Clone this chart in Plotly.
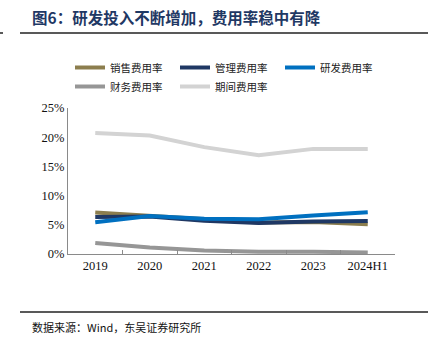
import plotly.graph_objects as go

categories = ["2019", "2020", "2021", "2022", "2023", "2024H1"]
sales = [7.1, 6.5, 5.9, 5.4, 5.5, 5.1]
mgmt = [6.35, 6.4, 5.7, 5.3, 5.55, 5.65]
rnd = [5.45, 6.5, 6.05, 5.95, 6.6, 7.15]
finance = [1.9, 1.1, 0.6, 0.4, 0.4, 0.25]
period = [20.7, 20.3, 18.3, 16.9, 18.0, 18.0]

series = [
    ("销售费用率", sales, "#8C7E4E"),
    ("管理费用率", mgmt, "#1F3864"),
    ("研发费用率", rnd, "#0070C0"),
    ("财务费用率", finance, "#969696"),
    ("期间费用率", period, "#D3D3D3"),
]

W, H = 428, 349
fig = go.Figure()
for name, vals, color in series:
    fig.add_trace(go.Scatter(
        x=categories, y=[v / 100 for v in vals], mode="lines", name=name,
        line=dict(color=color, width=4),
    ))

cjk = "Noto Sans CJK SC"
serif = "Liberation Serif"

fig.update_layout(
    width=W, height=H,
    margin=dict(l=68, r=33, t=108, b=95, autoexpand=False),
    paper_bgcolor="white", plot_bgcolor="white",
    showlegend=True,
    legend=dict(
        orientation="h", xref="container", yref="container",
        x=70 / W, y=1 - 53 / H, xanchor="left", yanchor="top",
        entrywidth=60, entrywidthmode="pixels",
        font=dict(family=cjk, size=10.5, color="#222"),
        itemwidth=30, tracegroupgap=0,
    ),
    xaxis=dict(
        type="category", showgrid=False, showline=True, linecolor="#8a8a8a", linewidth=1,
        ticks="inside", tickson="boundaries", ticklen=4, tickcolor="#8a8a8a",
        tickfont=dict(family=serif, size=12.5, color="#111"),
        range=[-0.5, 5.5],
    ),
    yaxis=dict(
        range=[0, 0.25], dtick=0.05, tickformat=".0%", showgrid=False,
        showline=True, linecolor="#8a8a8a", linewidth=1, ticks="", zeroline=False,
        tickfont=dict(family=serif, size=12.5, color="#111"),
    ),
    annotations=[
        dict(text="<b>图6：研发投入不断增加，费用率稳中有降</b>", xref="paper", yref="paper",
             x=(30 - 68) / (W - 68 - 33), y=1 + (108 - 17) / (H - 108 - 95),
             xanchor="left", yanchor="middle", showarrow=False,
             font=dict(family=cjk, size=15.5, color="#1F3864")),
        dict(text="数据来源：Wind，东吴证券研究所", xref="paper", yref="paper",
             x=(30 - 68) / (W - 68 - 33), y=-(327 - 254) / (H - 108 - 95),
             xanchor="left", yanchor="middle", showarrow=False,
             font=dict(family=cjk, size=11, color="#111")),
    ],
)

ph = H - 108 - 95
pw = W - 68 - 33
def px_to_paper_y(py):
    return (254 - py) / ph
def px_to_paper_x(px):
    return (px - 68) / pw

for ypx in (33, 312):
    fig.add_shape(type="line", xref="paper", yref="paper",
                  x0=px_to_paper_x(20), x1=px_to_paper_x(428),
                  y0=px_to_paper_y(ypx), y1=px_to_paper_y(ypx),
                  line=dict(color="#222", width=1.5))
fig.add_shape(type="line", xref="paper", yref="paper",
              x0=px_to_paper_x(0), x1=px_to_paper_x(3),
              y0=px_to_paper_y(33), y1=px_to_paper_y(33),
              line=dict(color="#222", width=1.5))

fig.write_html("out.html")
